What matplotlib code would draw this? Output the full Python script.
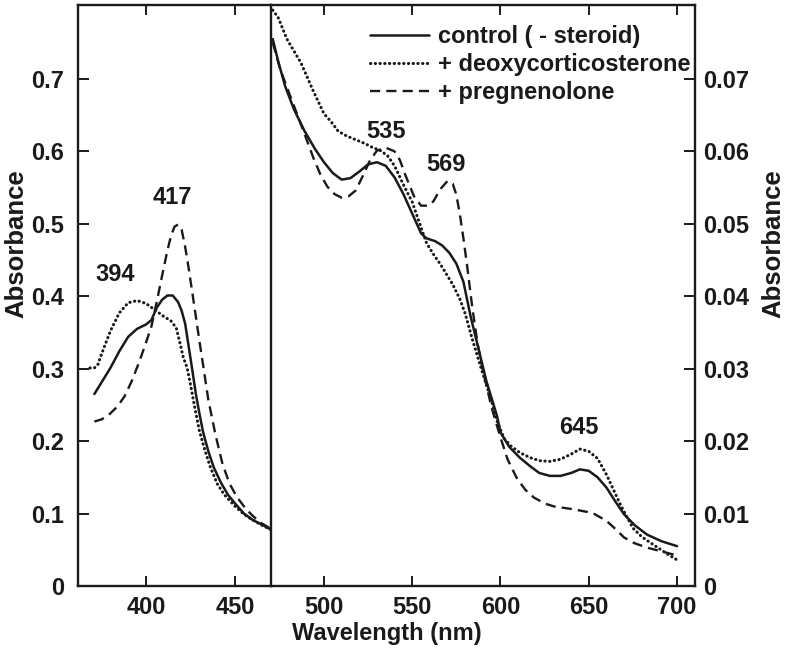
import matplotlib
matplotlib.use("Agg")
import matplotlib.pyplot as plt

plt.rcParams['font.family'] = ['Liberation Sans', 'DejaVu Sans']
plt.rcParams['font.weight'] = 'bold'

# ---------------- Left panel (Soret region) ----------------
ctrl_left_wl = [371, 375, 380, 385, 390, 395, 400, 403, 406, 409, 412, 415, 418, 420,
                422, 424, 426, 428, 430, 432, 435, 438, 442, 446, 450, 455, 460, 465, 470]
ctrl_left_abs = [0.265, 0.281, 0.301, 0.324, 0.344, 0.355, 0.361, 0.367, 0.384, 0.395,
                 0.401, 0.401, 0.392, 0.380, 0.362, 0.330, 0.298, 0.265, 0.238, 0.213,
                 0.186, 0.164, 0.143, 0.126, 0.114, 0.100, 0.091, 0.085, 0.078]

doc_left_wl = [368.5, 371, 373, 375, 380, 385, 390, 395, 400, 405, 410, 414, 417, 419, 421, 423,
               425, 427, 430, 433, 436, 440, 444, 450, 455, 460, 465, 470]
doc_left_abs = [0.301, 0.301, 0.306, 0.320, 0.352, 0.377, 0.391, 0.394, 0.390, 0.381, 0.372,
                0.366, 0.356, 0.336, 0.315, 0.302, 0.278, 0.251, 0.214, 0.188, 0.165,
                0.141, 0.126, 0.110, 0.099, 0.091, 0.084, 0.078]

preg_left_wl = [371, 375, 379, 384, 388, 392, 396, 400, 403, 406, 409, 412, 414, 416, 418,
                420, 422, 424, 426, 428, 430, 432, 435, 439, 443, 447, 451, 455, 459, 464, 470]
preg_left_abs = [0.227, 0.230, 0.236, 0.248, 0.262, 0.283, 0.308, 0.336, 0.358, 0.392,
                 0.428, 0.463, 0.483, 0.496, 0.499, 0.492, 0.468, 0.438, 0.405, 0.372,
                 0.338, 0.306, 0.257, 0.209, 0.168, 0.141, 0.123, 0.110, 0.099, 0.088, 0.079]

# ---------------- Right panel (visible region) ----------------
ctrl_right_wl = [471, 474, 478, 483, 489, 495, 500, 505, 510, 515, 520, 525, 530, 535, 540,
                 545, 550, 555, 558, 563, 567, 571, 575, 579, 583, 587, 592, 598, 600, 605,
                 611, 617, 622, 628, 634, 640, 645, 650, 655, 660, 665, 670, 676, 683, 691, 700]
ctrl_right_abs = [0.0755, 0.0725, 0.0690, 0.0658, 0.0628, 0.0603, 0.0585, 0.0570, 0.0561,
                  0.0563, 0.0572, 0.0582, 0.0585, 0.0580, 0.0564, 0.0541, 0.0514, 0.0487,
                  0.0480, 0.0476, 0.0470, 0.0460, 0.0445, 0.0420, 0.0373, 0.0333, 0.0283,
                  0.0235, 0.0212, 0.0192, 0.0177, 0.0165, 0.0156, 0.0152, 0.0152, 0.0156,
                  0.0161, 0.0159, 0.0150, 0.0136, 0.0117, 0.0099, 0.0084, 0.0071, 0.0062, 0.0055]

doc_right_wl = [471, 474, 479, 487, 494, 500, 504, 508, 513, 518, 523, 527, 532, 536, 540,
                545, 550, 554, 558, 562, 566, 570, 573, 577, 580, 584, 590, 595, 598, 602,
                606, 611, 617, 622, 628, 634, 640, 645, 650, 655, 660, 664, 668, 675, 680,
                686, 694, 700]
doc_right_abs = [0.0795, 0.0785, 0.0755, 0.0722, 0.0683, 0.0652, 0.0641, 0.0628, 0.0621,
                 0.0616, 0.0611, 0.0606, 0.0601, 0.0594, 0.0580, 0.0554, 0.0530, 0.0502,
                 0.0474, 0.0458, 0.0444, 0.0428, 0.0416, 0.0396, 0.0376, 0.0341, 0.0293,
                 0.0255, 0.0228, 0.0204, 0.0193, 0.0184, 0.0177, 0.0173, 0.0172, 0.0175,
                 0.0182, 0.0189, 0.0186, 0.0176, 0.0154, 0.0133, 0.0112, 0.0080, 0.0068,
                 0.0058, 0.0045, 0.0036]

preg_right_wl = [471, 475, 480, 485, 489, 494, 498, 502, 506, 510, 514, 518, 522, 526, 530,
                 535, 540, 543, 546, 551, 555, 559, 562, 566, 570, 573, 575, 577, 579, 581,
                 584, 587, 590, 595, 600, 604, 609, 614, 619, 625, 630, 641, 652, 660, 665,
                 670, 676, 683, 694, 700]
preg_right_abs = [0.0750, 0.0715, 0.0682, 0.0650, 0.0624, 0.0591, 0.0568, 0.0551, 0.0541,
                  0.0536, 0.0538, 0.0546, 0.0566, 0.0587, 0.0601, 0.0605, 0.0600, 0.0588,
                  0.0568, 0.0538, 0.0525, 0.0525, 0.0531, 0.0548, 0.0559, 0.0555, 0.0540,
                  0.0513, 0.0480, 0.0444, 0.0385, 0.0335, 0.0298, 0.0246, 0.0205, 0.0175,
                  0.0150, 0.0133, 0.0122, 0.0114, 0.0110, 0.0106, 0.0101, 0.0090, 0.0079,
                  0.0067, 0.0059, 0.0053, 0.0046, 0.0042]

series_labels = ['control ( - steroid)', '+ deoxycorticosterone', '+ pregnenolone']

left_xticks = [400, 450]
left_yticks = [0, 0.1, 0.2, 0.3, 0.4, 0.5, 0.6, 0.7]
left_yticklabels = ['0', '0.1', '0.2', '0.3', '0.4', '0.5', '0.6', '0.7']
right_xticks = [500, 550, 600, 650, 700]
right_yticks = [0, 0.01, 0.02, 0.03, 0.04, 0.05, 0.06, 0.07]
right_yticklabels = ['0', '0.01', '0.02', '0.03', '0.04', '0.05', '0.06', '0.07']

peak_labels_left = [('417', 414.6, 0.536), ('394', 382.6, 0.430)]
peak_labels_right = [('535', 535.0, 0.0628), ('569', 569.0, 0.0582), ('645', 644.5, 0.0219)]

# ---------------- styles ----------------
INK = '#1a1a1a'
solid_kw = dict(color=INK, lw=1.8, linestyle='-', solid_capstyle='round')
dot_kw = dict(color=INK, lw=2.2, linestyle=(0, (0.1, 1.45)), dash_capstyle='round')
dash_kw = dict(color=INK, lw=1.7, linestyle=(0, (4.3, 2.6)))
FS = 17

fig = plt.figure(figsize=(7.87, 6.48), dpi=100)
axL = fig.add_axes([78 / 787, 62 / 648, 193 / 787, 581 / 648])
axR = fig.add_axes([271 / 787, 62 / 648, 424 / 787, 581 / 648])

axL.plot(ctrl_left_wl, ctrl_left_abs, **solid_kw)
axL.plot(doc_left_wl, doc_left_abs, **dot_kw)
axL.plot(preg_left_wl, preg_left_abs, **dash_kw)

axR.plot(ctrl_right_wl, ctrl_right_abs, **solid_kw, label=series_labels[0])
axR.plot(doc_right_wl, doc_right_abs, **dot_kw, label=series_labels[1])
axR.plot(preg_right_wl, preg_right_abs, **dash_kw, label=series_labels[2])

axL.set_xlim(361.8, 470.2)
axL.set_ylim(0, 0.802)
axR.set_xlim(470.0, 710.2)
axR.set_ylim(0, 0.0802)

for ax in (axL, axR):
    for s in ax.spines.values():
        s.set_linewidth(1.7)
        s.set_color(INK)

axL.spines['right'].set_visible(False)

axL.set_xticks(left_xticks)
axL.set_xticklabels([str(t) for t in left_xticks])
axL.set_yticks(left_yticks)
axL.set_yticklabels(left_yticklabels)
axL.tick_params(axis='x', direction='in', top=True, bottom=True, length=7, width=1.4,
                pad=7, labelsize=FS, colors=INK)
axL.tick_params(axis='y', direction='in', left=True, right=False, length=8, width=1.4,
                pad=10, labelsize=FS, colors=INK)

axR.set_xticks(right_xticks)
axR.set_xticklabels([str(t) for t in right_xticks])
axR.set_yticks(right_yticks)
axR.set_yticklabels(right_yticklabels)
axR.yaxis.tick_right()
axR.yaxis.set_label_position('right')
axR.tick_params(axis='x', direction='in', top=True, bottom=True, length=7, width=1.4,
                pad=7, labelsize=FS, colors=INK)
axR.tick_params(axis='y', direction='in', left=False, right=True, length=8, width=1.4,
                pad=6, labelsize=FS, colors=INK)

for lab in axL.get_xticklabels() + axL.get_yticklabels() + axR.get_xticklabels() + axR.get_yticklabels():
    lab.set_fontweight('bold')

axL.set_ylabel('Absorbance', fontsize=18.5, fontweight='bold', color=INK)
axR.set_ylabel('Absorbance', fontsize=18.5, fontweight='bold', color=INK)
axL.yaxis.set_label_coords(-0.259, 0.589)
axR.yaxis.set_label_coords(1.156, 0.589)
fig.text((78 + 695) / 2 / 787, 0.022, 'Wavelength (nm)', ha='center', va='center',
         fontsize=17, fontweight='bold', color=INK)

for txt, x, y in peak_labels_left:
    axL.text(x, y, txt, ha='center', va='center', fontsize=FS, fontweight='bold', color=INK)
for txt, x, y in peak_labels_right:
    axR.text(x, y, txt, ha='center', va='center', fontsize=FS, fontweight='bold', color=INK)

leg = axR.legend(loc='upper right', bbox_to_anchor=(1.012, 0.982), frameon=False,
                 prop={'weight': 'bold', 'size': FS},
                 handlelength=2.5, handletextpad=0.4, labelspacing=0.22,
                 borderaxespad=0.2, borderpad=0.2)
for t in leg.get_texts():
    t.set_color(INK)

fig.savefig('out.png', dpi=100)
